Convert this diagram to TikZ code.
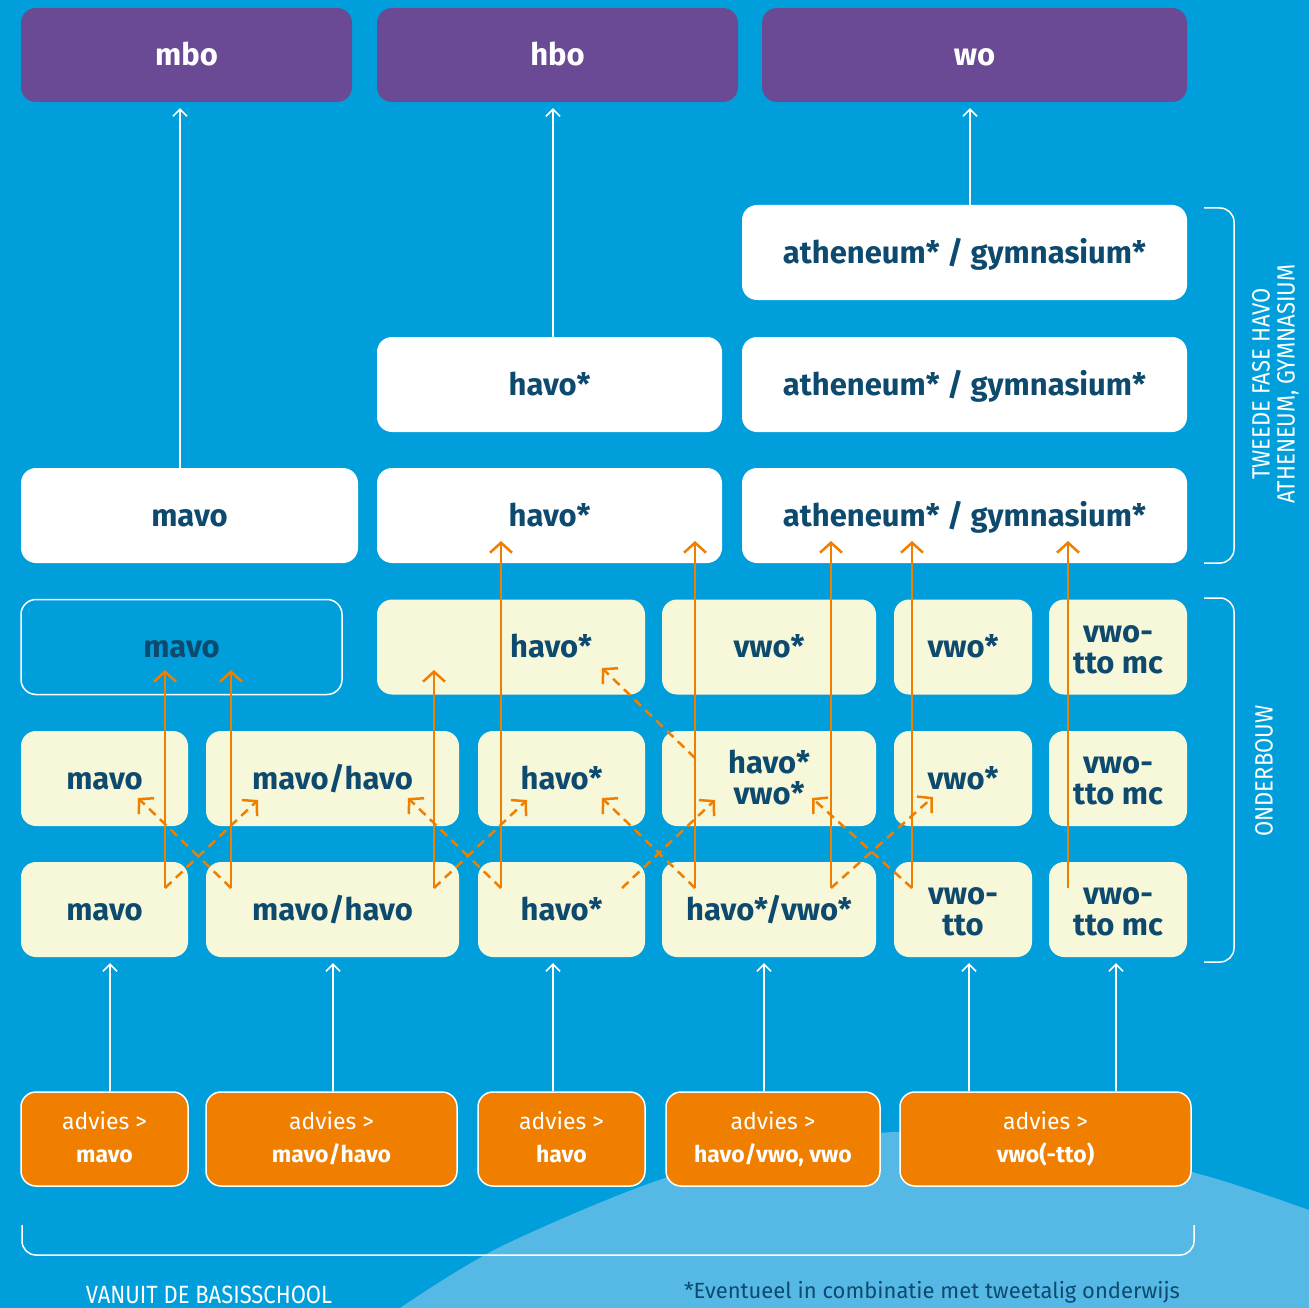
\documentclass[tikz,border=0pt]{standalone}
\usepackage{fontspec}
\setmainfont{Fira Sans}
\newfontfamily\smalfont[FakeStretch=0.88]{Fira Sans}
\usetikzlibrary{arrows.meta}
\definecolor{zee}{HTML}{009FDB}
\definecolor{heuvel}{HTML}{56B9E5}
\definecolor{paars}{HTML}{6A4A95}
\definecolor{room}{HTML}{F7F8DA}
\definecolor{inkt}{HTML}{0D4A6E}
\definecolor{oranje}{HTML}{F07F00}
\tikzset{
	vak/.style={rounded corners=15pt, minimum height=95pt, inner sep=0pt, align=center,
		text height=21pt, text depth=0pt,
		font=\fontsize{31}{31}\selectfont\bfseries, text=inkt},
	twee/.style={text height=52pt},
	paarsvak/.style={vak, fill=paars, text=white, minimum height=94pt},
	witvak/.style={vak, fill=white},
	roomvak/.style={vak, fill=room},
	leegvak/.style={vak, draw=white, line width=1.5pt},
	adviesvak/.style={vak, fill=oranje, draw=white, line width=1.5pt, text=white,
		minimum height=94pt, text height=46pt, font=\fontsize{23}{33}\selectfont},
	witpijl/.style={draw=white, line width=1.5pt, -{Straight Barb[length=7pt,width=14pt]}, shorten >=6pt},
	pijl/.style={draw=oranje, line width=2.5pt, -{Straight Barb[length=10pt,width=22pt]}},
	stippijl/.style={pijl, dash pattern=on 9pt off 6pt},
	haak/.style={draw=white, line width=1.5pt, rounded corners=14pt},
	kop/.style={text=white, inner sep=0pt, font=\smalfont\fontsize{25}{25}\selectfont}
}
\begin{document}
\begin{tikzpicture}[x=1pt, y=-1pt]
	\fill[zee] (0,0) rectangle (1309,1308);
	\useasboundingbox (0,0) rectangle (1309,1308);
	\fill[heuvel] plot[smooth] coordinates {(400,1308) (500,1247) (668,1177) (835,1140) (918,1132) (1085,1147) (1210,1177) (1309,1210)} -- (1309,1308) -- cycle;

	\node[paarsvak, minimum width=331pt] (mbo) at (186.5,55) {mbo};
	\node[paarsvak, minimum width=361pt] (hbo) at (557.5,55) {hbo};
	\node[paarsvak, minimum width=425pt] (wo) at (974.5,55) {wo};

	\node[witvak, minimum width=445pt] (ath1) at (964.5,252.5) {atheneum* / gymnasium*};
	\node[witvak, minimum width=345pt] (havo2) at (549.5,384.5) {havo*};
	\node[witvak, minimum width=445pt] (ath2) at (964.5,384.5) {atheneum* / gymnasium*};
	\node[witvak, minimum width=337pt] (mavo3) at (189.5,515.5) {mavo};
	\node[witvak, minimum width=345pt] (havo3) at (549.5,515.5) {havo*};
	\node[witvak, minimum width=445pt] (ath3) at (964.5,515.5) {atheneum* / gymnasium*};

	\node[leegvak, minimum width=321pt] (mavoA) at (181.5,647) {mavo};
	\node[roomvak, minimum width=268pt] (havoA) at (511,647) {\hspace*{80pt}havo*};
	\node[roomvak, minimum width=214pt] (vwoA) at (769,647) {vwo*};
	\node[roomvak, minimum width=138pt] (vwoA2) at (963,647) {vwo*};
	\node[roomvak, twee, minimum width=138pt] (mcA) at (1118,647) {vwo-\\tto mc};

	\node[roomvak, minimum width=167pt] (mavoB) at (104.5,778.5) {mavo};
	\node[roomvak, minimum width=253pt] (mhB) at (332.5,778.5) {mavo/havo};
	\node[roomvak, minimum width=167pt] (havoB) at (561.5,778.5) {havo*};
	\node[roomvak, twee, minimum width=214pt] (hvB) at (769,778.5) {havo*\\vwo*};
	\node[roomvak, minimum width=138pt] (vwoB) at (963,778.5) {vwo*};
	\node[roomvak, twee, minimum width=138pt] (mcB) at (1118,778.5) {vwo-\\tto mc};

	\node[roomvak, minimum width=167pt] (mavoC) at (104.5,909.5) {mavo};
	\node[roomvak, minimum width=253pt] (mhC) at (332.5,909.5) {mavo/havo};
	\node[roomvak, minimum width=167pt] (havoC) at (561.5,909.5) {havo*};
	\node[roomvak, minimum width=214pt] (hvC) at (769,909.5) {havo*/vwo*};
	\node[roomvak, twee, minimum width=138pt] (ttoC) at (963,909.5) {vwo-\\tto};
	\node[roomvak, twee, minimum width=138pt] (mcC) at (1118,909.5) {vwo-\\tto mc};

	\node[adviesvak, minimum width=167pt] (adv1) at (104.5,1139) {advies >\\\textbf{mavo}};
	\node[adviesvak, minimum width=251pt] (adv2) at (331.5,1139) {advies >\\\textbf{mavo/havo}};
	\node[adviesvak, minimum width=167pt] (adv3) at (561.5,1139) {advies >\\\textbf{havo}};
	\node[adviesvak, minimum width=214pt] (adv4) at (773,1139) {advies >\\\textbf{havo/vwo, vwo}};
	\node[adviesvak, minimum width=291pt] (adv5) at (1045.5,1139) {advies >\\\textbf{vwo(-tto)}};

	\foreach \k/\x in {k1/110, k2/333, k3/553, k4/764, k5/969, k6/1116, k7/180, k8/553, k9/970}
		\coordinate (\k) at (\x,0);
	\draw[witpijl] (adv1.north -| k1) -- (mavoC.south -| k1);
	\draw[witpijl] (adv2.north -| k2) -- (mhC.south -| k2);
	\draw[witpijl] (adv3.north -| k3) -- (havoC.south -| k3);
	\draw[witpijl] (adv4.north -| k4) -- (hvC.south -| k4);
	\draw[witpijl] (adv5.north -| k5) -- (ttoC.south -| k5);
	\draw[witpijl] (adv5.north -| k6) -- (mcC.south -| k6);
	\draw[witpijl] (mavo3.north -| k7) -- (mbo.south -| k7);
	\draw[witpijl] (havo2.north -| k8) -- (hbo.south -| k8);
	\draw[witpijl] (ath1.north -| k9) -- (wo.south -| k9);

	\foreach \i/\x/\y in {1/165/670, 2/231/670, 3/434/670, 4/501/541, 5/695/541, 6/831/541, 7/912/541, 8/1068/541}
	{
		\coordinate (van\i) at (\x,888);
		\coordinate (naar\i) at (\x,\y);
	}
	\foreach \i in {1,...,8}
		\draw[pijl] (van\i) -- (naar\i);

	\foreach \i/\a/\b/\c/\d in {1/165/888/258/800, 2/231/888/138/798, 3/434/888/527/800, 4/501/888/408/798,
		5/622/888/715/800, 6/695/888/602/798, 7/831/888/933/797, 8/912/888/812/798, 9/695/758/602/668}
	{
		\coordinate (uit\i) at (\a,\b);
		\coordinate (in\i) at (\c,\d);
	}
	\foreach \i in {1,...,9}
		\draw[stippijl] (uit\i) -- (in\i);

	\draw[haak] (1204,208) -| (1234,563) -- (1204,563);
	\draw[haak] (1204,598) -| (1234,962) -- (1204,962);
	\draw[haak] (22,1225) |- (1194,1255) -- (1194,1225);

	\node[kop, rotate=90, align=center] (tweede) at (1275.5,384) {TWEEDE FASE HAVO\\ATHENEUM, GYMNASIUM};
	\node[kop, rotate=90] (onder) at (1264,771) {ONDERBOUW};
	\node[kop] (basis) at (209,1295) {VANUIT DE BASISSCHOOL};
	\node[text=inkt, inner sep=0pt, font=\fontsize{22}{26}\selectfont] (noot) at (932,1292) {*Eventueel in combinatie met tweetalig onderwijs};
\end{tikzpicture}
\end{document}
